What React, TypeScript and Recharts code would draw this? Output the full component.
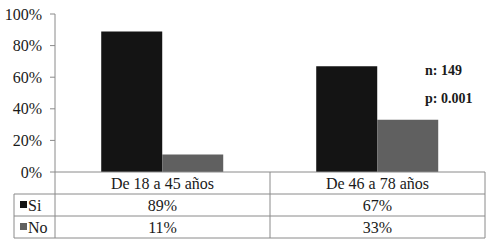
import { Bar, BarChart, XAxis, YAxis } from 'recharts';

const categories = ['De 18 a 45 años', 'De 46 a 78 años'];
const siValues = [89, 67];
const noValues = [11, 33];
const seriesNames = ['Si', 'No'];
const yTicks = [0, 20, 40, 60, 80, 100];
const notes = ['n: 149', 'p: 0.001'];

const COLORS = ['#141414', '#606060'];
const LINE = '#8a8a8a';
const FONT = "'Liberation Serif', 'Times New Roman', serif";

const data = categories.map((name, i) => ({
    name,
    si: siValues[i],
    no: noValues[i],
}));

// one column of the table under the plot, drawn per category tick
const TableTick = (props: any) => {
    const { x, y, payload, index } = props;
    const half = 107.5;
    const top = y;
    const rows = [payload.value, `${siValues[index]}%`, `${noValues[index]}%`];
    return (
        <g>
            <line x1={x + half} y1={top} x2={x + half} y2={top + 66} stroke={LINE} />
            <line x1={x - half} y1={top + 22} x2={x + half} y2={top + 22} stroke={LINE} />
            <line x1={x - half} y1={top + 44} x2={x + half} y2={top + 44} stroke={LINE} />
            <line x1={x - half} y1={top + 66} x2={x + half} y2={top + 66} stroke={LINE} />
            {rows.map((t, r) => (
                <text key={r} x={x} y={top + 11 + r * 22} dy="0.35em" textAnchor="middle"
                      style={{ fontFamily: FONT, fontSize: 16 }} fill="#1a1a1a">{t}</text>
            ))}
        </g>
    );
};

export default function App() {
    return (
        <div style={{ position: 'absolute', left: 0, top: 0, width: 489, height: 243, background: '#fff', fontFamily: FONT }}>
            <BarChart width={489} height={243} data={data}
                      margin={{ top: 14, right: 4, left: 0, bottom: 0 }}
                      barCategoryGap="21.5%" barGap={0}>
                <XAxis dataKey="name" height={71} tickLine={false} axisLine={{ stroke: LINE }}
                       tick={<TableTick />} tickSize={0} tickMargin={0} interval={0} />
                <YAxis width={55} domain={[0, 100]} ticks={yTicks} tickFormatter={(v: number) => `${v}%`}
                       tickSize={5} tickMargin={8} axisLine={{ stroke: LINE }} tickLine={{ stroke: LINE }}
                       tick={{ style: { fontFamily: FONT, fontSize: 16 }, fill: '#1a1a1a' }} />
                <Bar dataKey="si" name={seriesNames[0]} fill={COLORS[0]} isAnimationActive={false} />
                <Bar dataKey="no" name={seriesNames[1]} fill={COLORS[1]} isAnimationActive={false} />
            </BarChart>
            <svg width={489} height={243} style={{ position: 'absolute', left: 0, top: 0, pointerEvents: 'none' }}>
                <line x1={14} y1={194} x2={55} y2={194} stroke={LINE} />
                <line x1={14} y1={216} x2={55} y2={216} stroke={LINE} />
                <line x1={14} y1={238} x2={55} y2={238} stroke={LINE} />
                <line x1={14} y1={194} x2={14} y2={238} stroke={LINE} />
                <line x1={55} y1={172} x2={55} y2={238} stroke={LINE} />
                {seriesNames.map((s, i) => (
                    <g key={s}>
                        <rect x={20} y={201 + i * 22} width={7} height={7} fill={COLORS[i]} />
                        <text x={28} y={205 + i * 22} dy="0.35em" style={{ fontFamily: FONT, fontSize: 16 }} fill="#1a1a1a">{s}</text>
                    </g>
                ))}
                {notes.map((n, i) => (
                    <text key={n} x={425} y={75 + i * 28} style={{ fontFamily: FONT, fontSize: 14, fontWeight: 'bold' }} fill="#1a1a1a">{n}</text>
                ))}
            </svg>
        </div>
    );
}
